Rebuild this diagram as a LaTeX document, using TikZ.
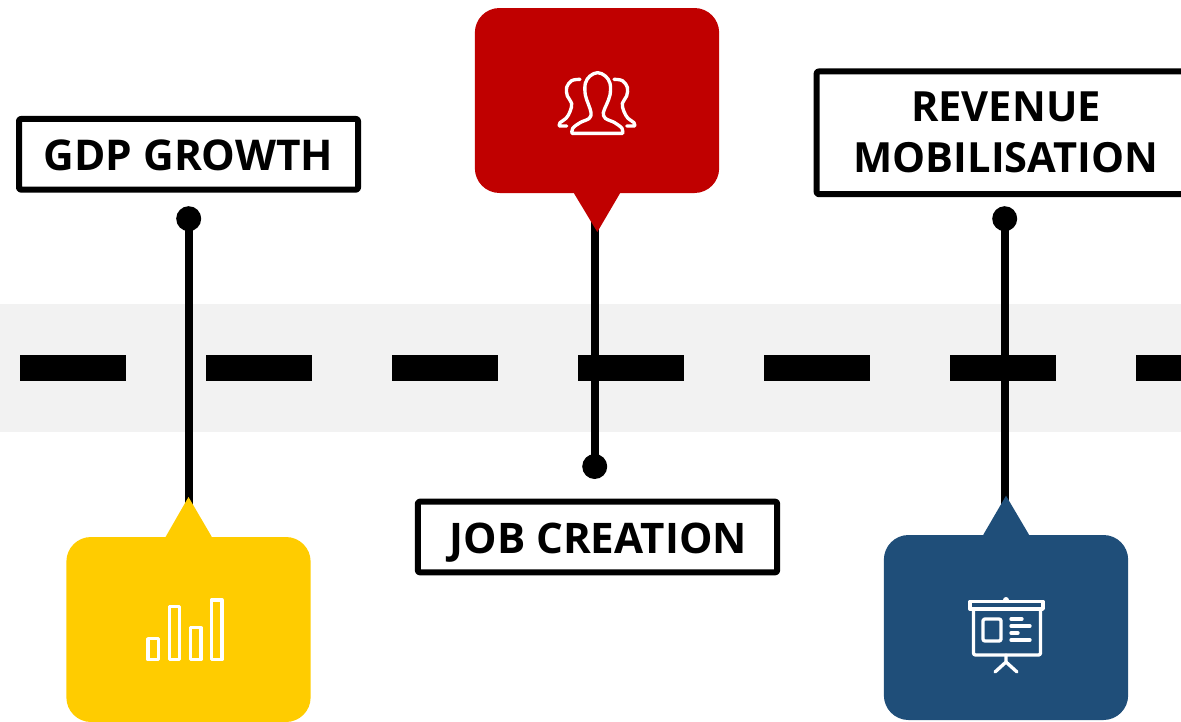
\documentclass[tikz,border=0pt]{standalone}
\usepackage{fontspec}
\setmainfont{Open Sans}
\definecolor{bandgray}{HTML}{F2F2F2}
\definecolor{bubblered}{HTML}{C00000}
\definecolor{bubbleyellow}{HTML}{FFCC00}
\definecolor{bubbleblue}{HTML}{1F4E79}
\tikzset{
  labelbox/.style={draw=black,line width=4.5pt,line join=round,rounded corners=1.5pt,fill=white,rectangle,inner sep=0pt,align=center,text=black,font=\bfseries\fontsize{31.8}{38.2}\selectfont},
  oneline/.style={text height=24.2pt,text depth=0pt},
  bubble/.style={rectangle,rounded corners=18.5pt,inner sep=0pt,minimum width=183.2pt,minimum height=138.75pt},
  dot/.style={circle,fill=black,inner sep=0pt,minimum size=18.75pt},
  stem/.style={draw=black,line width=6pt},
  roaddash/.style={fill=black,rectangle,inner sep=0pt,minimum width=79.5pt,minimum height=19.5pt},
  iconline/.style={draw=white,line width=2.5pt,line cap=round,line join=round}
}
\begin{document}
\begin{tikzpicture}[x=.75pt,y=-.75pt]
\useasboundingbox (0,0) rectangle (1181,721);
\clip (0,0) rectangle (1181,721);
% band
\fill[bandgray] (0,304) rectangle (1181,432);
% dashes
\foreach \n/\cx in {a/73,b/259,c/445,d/631,e/817,f/1003,g/1189}
  \node[roaddash] (dash\n) at (\cx,368) {};
% dots and stems
\node[dot] (dgdp) at (188.7,218.7) {};
\node[dot] (djob) at (594.7,466.5) {};
\node[dot] (drev) at (1004.7,218.7) {};
\coordinate (redtip) at (597.3,232);
\coordinate (yeltip) at (188.5,497);
\coordinate (blutip) at (1006,495.7);
\coordinate (redstem) at (594.7,215);
\coordinate (yelstem) at (188.7,515);
\coordinate (blustem) at (1004.7,515);
\draw[stem] (dgdp.center) -- (yelstem);
\draw[stem] (redstem) -- (djob.center);
\draw[stem] (drev.center) -- (blustem);
% bubbles
\node[bubble,fill=bubblered] (redb) at (597,100.5) {};
\node[bubble,fill=bubbleyellow] (yelb) at (188.5,629.5) {};
\node[bubble,fill=bubbleblue] (blub) at (1006,627.5) {};
\fill[bubblered] (574,190) -- (574,193.3) -- (redtip) -- (620,193.3) -- (620,190) -- cycle;
\fill[bubbleyellow] (165.7,540) -- (165.7,536.7) -- (yeltip) -- (211.7,536.7) -- (211.7,540) -- cycle;
\fill[bubbleblue] (983.3,538) -- (983.3,534.7) -- (blutip) -- (1029,534.7) -- (1029,538) -- cycle;
% label boxes
\node[labelbox,oneline,minimum width=254.25pt,minimum height=53pt] (gdp) at (188.5,154.3) {GDP GROWTH};
\node[labelbox,minimum width=284pt,minimum height=92pt] (rev) at (1006,132.8) {\fontsize{31.2}{38.2}\selectfont REVENUE\\\fontsize{31.2}{38.2}\selectfont MOBILISATION};
\node[labelbox,oneline,minimum width=269.5pt,minimum height=53pt] (job) at (597.5,537) {\fontsize{31.6}{38.2}\selectfont\hspace{1pt}JOB CREATION};
% people icon
\begin{scope}[xshift=397.5pt,yshift=-37.5pt,x=.25pt,y=-.25pt]
  \draw[iconline] plot[smooth,tension=.6] coordinates {(126,250) (128,235) (150,218) (178,205) (183,188) (176,165) (166,135) (166,100) (180,78) (203,68) (226,78) (240,100) (240,135) (229,165) (220,188) (226,205) (254,218) (276,235) (278,250)} -- cycle;
  \draw[iconline] plot[smooth,tension=.6] coordinates {(150,88) (125,92) (110,112) (112,138) (125,160) (120,185) (108,205) (90,218) (88,228)} -- (110,228);
  \draw[iconline] plot[smooth,tension=.6] coordinates {(252,88) (277,92) (292,112) (290,138) (277,160) (282,185) (294,205) (312,218) (314,228)} -- (290,228);
\end{scope}
% bars icon
\begin{scope}[iconline]
  \draw (148,638.7) rectangle (158.7,659.7);
  \draw (169.2,606.5) rectangle (179.8,659.7);
  \draw (190.5,627.8) rectangle (201,659.7);
  \draw (211.5,600) rectangle (222,659.7);
\end{scope}
% presentation icon
\begin{scope}[iconline]
  \fill[white] (1006,600) circle[radius=3];
  \draw (970,601.5) rectangle (1043,609);
  \draw[rounded corners=1.5pt] (973.5,609) -- (973.5,655) -- (1040.5,655) -- (1040.5,609);
  \draw[rounded corners=1.5pt] (983,619) rectangle (1001,641);
  \draw (1011,619) -- (1022,619);
  \draw (1011,626) -- (1030,626);
  \draw (1011,633) -- (1018,633);
  \draw (1011,640) -- (1030,640);
  \draw (1006,655) -- (1006,662) -- (995,672);
  \draw (1006,662) -- (1017,672);
\end{scope}
\end{tikzpicture}
\end{document}
